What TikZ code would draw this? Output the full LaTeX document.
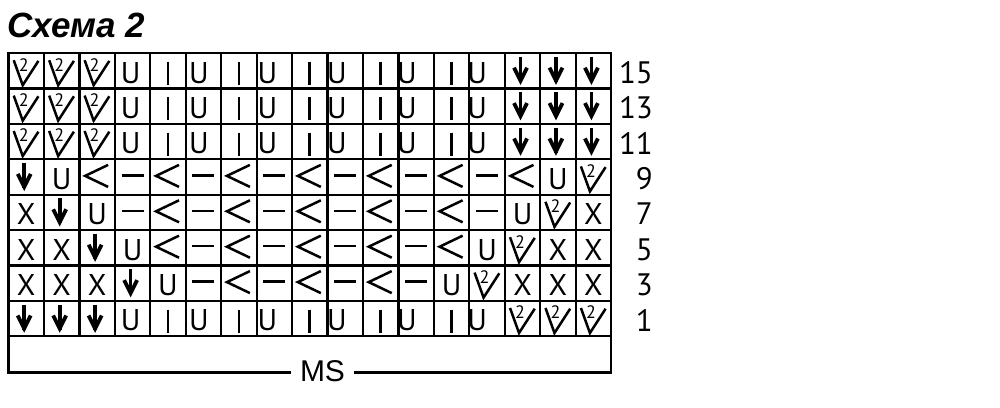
\documentclass[tikz,border=0pt]{standalone}
\usepackage{fontspec}
\setmainfont{PT Sans}
\newfontfamily\titlefnt{Liberation Sans}
\newfontfamily\msfnt{Liberation Sans}
\tikzset{
  gridline/.style={line width=2.2pt, line cap=rect},
  celltext/.style={font=\fontsize{30}{32}\selectfont, inner sep=0pt},
  rowlabel/.style={font=\fontsize{31}{33}\selectfont, anchor=east, inner sep=0pt},
  thinsym/.style={line width=2.5pt},
  arrowsym/.style={line width=3.8pt, line join=miter},
  symI/.pic={\draw[line width=2.7pt] (0,-9) -- (0,14);},
  symL/.pic={\draw[thinsym] (11,-12) -- (-12,-1) -- (11,10);},
  symD/.pic={\draw[thinsym] (-11,-1.5) -- (11,-1.5);},
  symU/.pic={\node[celltext] (-t) at (0,2) {U};},
  symu/.pic={\node[celltext] (-t) at (\ushift,2) {U};},
  symX/.pic={\node[celltext] (-t) at (0,2) {X};},
  symA/.pic={
    \draw[arrowsym] (-2,-14) -- (-2,11);
    \draw[arrowsym] (-8.5,-3) -- (-2,10) -- (4.5,-3);
  },
  symV/.pic={
    \draw[thinsym] (-12.5,-10.5) -- (-3.5,14.5) -- (12.2,-9.8);
    \node[font=\fontsize{18}{18}\selectfont, inner sep=0pt] (-t) at (-2.5,-6) {2};
  },
}

\begin{document}
\begin{tikzpicture}[x=1pt, y=-1pt]
\useasboundingbox (0,0) rectangle (1000,407);

\node[font={\titlefnt\bfseries\itshape\fontsize{35}{40}\selectfont}, anchor=base west, inner sep=0pt] (title) at (7,37) {Схема 2};

% Grid
\foreach \k in {0,...,17}
  \draw[gridline] ({8.5+35.45*\k},53) -- ({8.5+35.45*\k},336.2);
\foreach \k in {0,...,8}
  \draw[gridline] (8.5,{53+35.4*\k}) -- (611.15,{53+35.4*\k});

% Stitches, top row first
\foreach \cells [count=\i from 0] in {
  {V,V,V,u,I,u,I,u,I,u,I,u,I,u,A,A,A},
  {V,V,V,u,I,u,I,u,I,u,I,u,I,u,A,A,A},
  {V,V,V,u,I,u,I,u,I,u,I,u,I,u,A,A,A},
  {A,U,L,D,L,D,L,D,L,D,L,D,L,D,L,U,V},
  {X,A,U,D,L,D,L,D,L,D,L,D,L,D,U,V,X},
  {X,X,A,U,L,D,L,D,L,D,L,D,L,U,V,X,X},
  {X,X,X,A,U,D,L,D,L,D,L,D,U,V,X,X,X},
  {A,A,A,u,I,u,I,u,I,u,I,u,I,u,V,V,V}}{
  \foreach \s [count=\j from 0] in \cells {
    \pgfmathsetmacro\ushift{{0,0,0,-2,0,-4.5,0,-7,0,-8.3,0,-9.2,0,-10,0,0,0}[\j]}
    \pic (c\i-\j) at ({26.225+35.45*\j},{70.7+35.4*\i}) {sym\s};
  }
}

% Row numbers
\foreach \n [count=\i from 0] in {15,13,11,9,7,5,3,1}
  \node[rowlabel] (r\n) at (653,{72.5+35.4*\i}) {\n};

% Bottom box
\coordinate (boxtl) at (8.5,336.2);
\coordinate (boxbl) at (8.5,372.5);
\coordinate (boxbr) at (611.15,372.5);
\coordinate (boxtr) at (611.15,336.2);
\node[font={\msfnt\fontsize{30}{32}\selectfont}, inner ysep=0pt, inner xsep=10pt] (ms) at (322.5,371.5) {MS};
\draw[gridline] (boxtl) -- (boxbl) -- (boxbl -| ms.west);
\draw[gridline] (ms.east |- boxbr) -- (boxbr) -- (boxtr);
\end{tikzpicture}
\end{document}
